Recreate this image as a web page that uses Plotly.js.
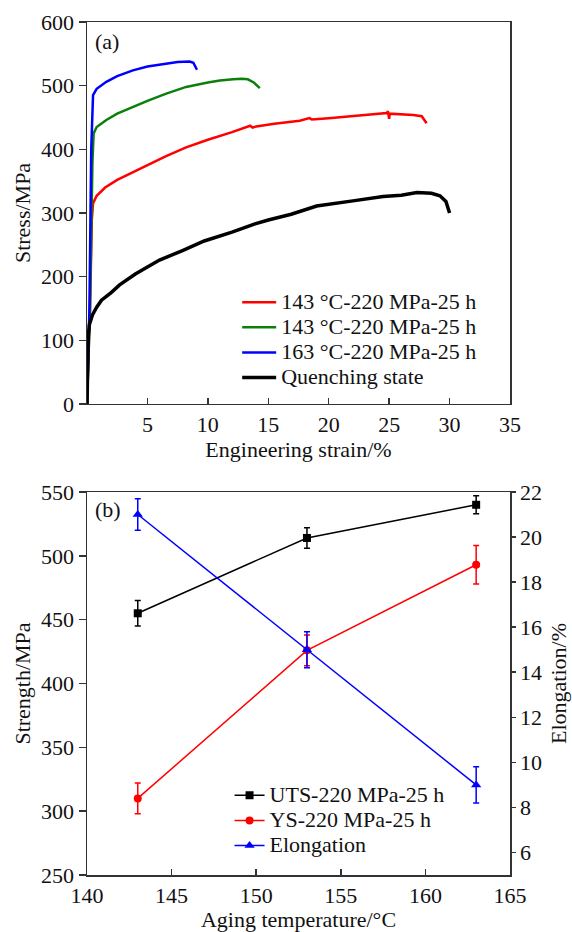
<!DOCTYPE html>
<html>
<head>
<meta charset="utf-8">
<script src="https://cdn.plot.ly/plotly-3.0.1.min.js"></script>
<style>
  html, body { margin: 0; padding: 0; background: #ffffff; }
  #chart { width: 572px; height: 932px; }
</style>
</head>
<body>
<div id="chart"></div>
<script>
// ---------- Panel (a): stress-strain curves ----------
const redName = "143 °C-220 MPa-25 h";
const redStrain = [0, 0.25, 0.4, 0.5, 0.8, 1.5, 2.5, 3.8, 5, 6.5, 8.2, 10, 12, 13.2, 13.5, 13.7, 14, 15.5, 17.6, 18.4, 18.6, 20, 22, 24, 24.8, 24.9, 25.0, 25.05, 26, 27, 27.7, 28.1];
const redStress = [0, 150, 290, 315, 327, 340, 352, 364, 376, 389, 403, 415, 427, 435, 437, 434, 436, 440, 445, 449, 447, 449, 452, 455, 457, 460, 448, 456, 455, 454, 452, 441];

const greenName = "143 °C-220 MPa-25 h";
const greenStrain = [0, 0.25, 0.45, 0.55, 0.8, 1.6, 2.5, 3.8, 5, 6.5, 8.2, 10, 11, 12.1, 12.8, 13.3, 13.8, 14.3];
const greenStress = [0, 150, 380, 425, 435, 446, 456, 467, 476, 487, 498, 505, 508, 510, 511, 510, 505, 496];

const blueName = "163 °C-220 MPa-25 h";
const blueStrain = [0, 0.2, 0.35, 0.5, 0.8, 1.6, 2.5, 3.8, 5, 6.6, 7.5, 8.5, 8.8, 9.1];
const blueStress = [0, 150, 400, 485, 495, 506, 515, 524, 530, 535, 537, 538, 536, 525];

const blackName = "Quenching state";
const blackStrain = [0, 0.05, 0.1, 0.2, 0.45, 0.8, 1.2, 2, 2.7, 4, 4.8, 6, 7.9, 9.7, 12, 13.9, 15, 16.9, 19, 20, 22, 24.5, 26, 27.3, 28.5, 29.2, 29.7, 30];
const blackStress = [0, 60, 105, 125, 140, 152, 163, 175, 187, 204, 213, 226, 241, 256, 270, 283, 289, 298, 311, 314, 319, 326, 328, 332, 331, 327, 318, 300];

const strainTicks = [5, 10, 15, 20, 25, 30, 35];
const stressTicks = [0, 100, 200, 300, 400, 500, 600];

// ---------- Panel (b): properties vs aging temperature ----------
const agingTemp = [143, 153, 163];
const utsName = "UTS-220 MPa-25 h";
const utsValues = [455, 514, 540];
const utsErr = [10, 8, 7];
const ysName = "YS-220 MPa-25 h";
const ysValues = [310, 426, 493];
const ysErr = [12, 12, 15];
const elName = "Elongation";
const elValues = [21.0, 15.0, 9.0];
const elErr = [0.7, 0.8, 0.8];

const tempTicks = [140, 145, 150, 155, 160, 165];
const strengthTicks = [250, 300, 350, 400, 450, 500, 550];
const elongTicks = [6, 8, 10, 12, 14, 16, 18, 20, 22];

const FONT = "Liberation Serif, Times New Roman, serif";
const AX = "#333333";
// legend labels drawn larger than the row spacing, as in the original figure
const big = s => '<span style="font-size:22px">' + s + '</span>';

const traces = [
  {x: redStrain, y: redStress, name: big(redName), type: "scatter", mode: "lines",
   line: {color: "#ff0000", width: 2.5}, xaxis: "x", yaxis: "y", legend: "legend"},
  {x: greenStrain, y: greenStress, name: big(greenName), type: "scatter", mode: "lines",
   line: {color: "#0a800a", width: 2.5}, xaxis: "x", yaxis: "y", legend: "legend"},
  {x: blueStrain, y: blueStress, name: big(blueName), type: "scatter", mode: "lines",
   line: {color: "#0000ff", width: 2.5}, xaxis: "x", yaxis: "y", legend: "legend"},
  {x: blackStrain, y: blackStress, name: big(blackName), type: "scatter", mode: "lines",
   line: {color: "#000000", width: 3.5}, xaxis: "x", yaxis: "y", legend: "legend"},

  {x: agingTemp, y: utsValues, name: big(utsName), type: "scatter", mode: "lines+markers",
   line: {color: "#000000", width: 1.5}, marker: {symbol: "square", size: 8, color: "#000000"},
   error_y: {type: "data", array: utsErr, visible: true, color: "#000000", thickness: 1.5, width: 3},
   xaxis: "x2", yaxis: "y2", legend: "legend2"},
  {x: agingTemp, y: ysValues, name: big(ysName), type: "scatter", mode: "lines+markers",
   line: {color: "#ff0000", width: 1.5}, marker: {symbol: "circle", size: 8, color: "#ff0000"},
   error_y: {type: "data", array: ysErr, visible: true, color: "#ff0000", thickness: 1.5, width: 3},
   xaxis: "x2", yaxis: "y2", legend: "legend2"},
  {x: agingTemp, y: elValues, name: big(elName), type: "scatter", mode: "lines+markers",
   line: {color: "#0000ff", width: 1.5}, marker: {symbol: "triangle-up", size: 9, color: "#0000ff"},
   error_y: {type: "data", array: elErr, visible: true, color: "#0000ff", thickness: 1.5, width: 3},
   xaxis: "x2", yaxis: "y3", legend: "legend2"}
];

const tickFont = {family: FONT, size: 22, color: "#111"};
const titleFont = {family: FONT, size: 22, color: "#111"};

const layout = {
  width: 572, height: 932,
  margin: {l: 87, r: 62, t: 22, b: 57},
  paper_bgcolor: "#ffffff", plot_bgcolor: "#ffffff",
  font: {family: FONT, size: 22, color: "#111"},
  xaxis: {
    domain: [0, 1], anchor: "y", range: [0, 35], tickvals: strainTicks,
    ticks: "inside", ticklen: 6, tickwidth: 1.5, tickcolor: AX,
    showline: true, linecolor: AX, linewidth: 1.5, mirror: true,
    showgrid: false, zeroline: false, tickfont: tickFont,
    title: {text: "Engineering strain/%", font: titleFont, standoff: 4}
  },
  yaxis: {
    domain: [0.5522, 1], anchor: "x", range: [0, 600], tickvals: stressTicks,
    ticks: "outside", ticklen: 7, tickwidth: 1.5, tickcolor: AX,
    showline: true, linecolor: AX, linewidth: 1.5, mirror: true,
    showgrid: false, zeroline: false, tickfont: tickFont,
    title: {text: "Stress/MPa", font: titleFont, standoff: 4}
  },
  xaxis2: {
    domain: [0, 1], anchor: "y2", range: [140, 165], tickvals: tempTicks,
    ticks: "inside", ticklen: 6, tickwidth: 1.5, tickcolor: AX,
    showline: true, linecolor: AX, linewidth: 1.5, mirror: true,
    showgrid: false, zeroline: false, tickfont: tickFont,
    title: {text: "Aging temperature/°C", font: titleFont, standoff: 8}
  },
  yaxis2: {
    domain: [0, 0.449], anchor: "x2", range: [250, 550], tickvals: strengthTicks,
    ticks: "outside", ticklen: 7, tickwidth: 1.5, tickcolor: AX,
    showline: true, linecolor: AX, linewidth: 1.5,
    showgrid: false, zeroline: false, tickfont: tickFont,
    title: {text: "Strength/MPa", font: titleFont, standoff: 4}
  },
  yaxis3: {
    overlaying: "y2", side: "right", anchor: "x2", range: [5, 22], tickvals: elongTicks,
    ticks: "outside", ticklen: 4, tickwidth: 1.5, tickcolor: AX,
    showline: true, linecolor: AX, linewidth: 1.5,
    showgrid: false, zeroline: false, tickfont: tickFont,
    title: {text: "Elongation/%", font: titleFont, standoff: 9}
  },
  showlegend: true,
  legend: {
    x: 0.355, y: 0.692, xanchor: "left", yanchor: "top",
    bgcolor: "rgba(0,0,0,0)", font: {family: FONT, size: 17, color: "#111"},
    tracegroupgap: 0, itemwidth: 34
  },
  legend2: {
    x: 0.337, y: 0.114, xanchor: "left", yanchor: "top",
    bgcolor: "rgba(0,0,0,0)", font: {family: FONT, size: 17, color: "#111"},
    tracegroupgap: 0, itemwidth: 30
  },
  annotations: [
    {text: "(a)", xref: "paper", yref: "paper", x: 0.047, y: 0.9766, showarrow: false,
     font: {family: FONT, size: 22, color: "#111"}, xanchor: "center", yanchor: "middle"},
    {text: "(b)", xref: "paper", yref: "paper", x: 0.05, y: 0.428, showarrow: false,
     font: {family: FONT, size: 22, color: "#111"}, xanchor: "center", yanchor: "middle"}
  ]
};

Plotly.newPlot("chart", traces, layout, {displayModeBar: false, staticPlot: true});
</script>
</body>
</html>
